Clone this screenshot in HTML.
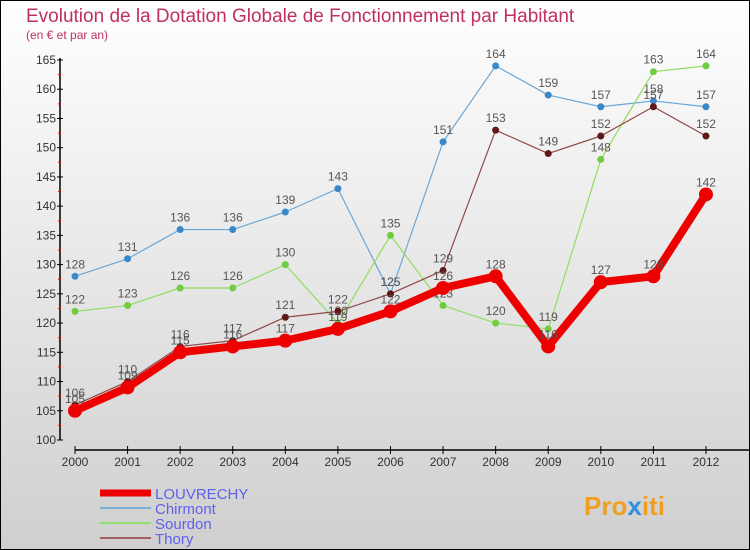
<!DOCTYPE html>
<html><head><meta charset="utf-8"><style>
body{margin:0;width:750px;height:550px;overflow:hidden;font-family:"Liberation Sans",sans-serif}
svg{display:block}
</style></head><body>
<svg id="chart" width="750" height="550" viewBox="0 0 750 550" xmlns="http://www.w3.org/2000/svg">
<defs><linearGradient id="bg" x1="0" y1="0" x2="0" y2="1"><stop offset="0" stop-color="#ffffff"/><stop offset="1" stop-color="#cfcfcf"/></linearGradient></defs>
<rect x="0.5" y="0.5" width="749" height="549" fill="url(#bg)" stroke="#000"/>
<text x="26" y="22" font-size="19" fill="#c0305a">Evolution de la Dotation Globale de Fonctionnement par Habitant</text>
<text x="26" y="39" font-size="12" fill="#c0305a">(en € et par an)</text>
<g id="axes"></g>
<g id="series"></g>
<g id="legend"></g>
<text x="584" y="515" font-size="26" font-weight="bold" fill="#f0a020">Pro<tspan fill="#3090e0">x</tspan>iti</text>
</svg>
<script>
const years=[2000,2001,2002,2003,2004,2005,2006,2007,2008,2009,2010,2011,2012];
const yTicks=[100,105,110,115,120,125,130,135,140,145,150,155,160,165];
const louvrechy=[105,109,115,116,117,119,122,126,128,116,127,128,142];
const chirmont=[128,131,136,136,139,143,125,151,164,159,157,158,157];
const sourdon=[122,123,126,126,130,120,135,123,120,119,148,163,164];
const thory=[106,110,116,117,121,122,125,129,153,149,152,157,152];
const NS="http://www.w3.org/2000/svg";
const xS=i=>75+i*52.58;
const yS=v=>440-(v-100)*(380/65);
function mk(tag,attrs,parent){const e=document.createElementNS(NS,tag);for(const k in attrs)e.setAttribute(k,attrs[k]);parent.appendChild(e);return e;}
const axes=document.getElementById('axes');
let a=mk('line',{x1:60,y1:58,x2:60,y2:440,stroke:'#000','stroke-width':1.5},axes);


a=mk('line',{x1:75,y1:450,x2:750,y2:450,stroke:'#000','stroke-width':1.5},axes);


yTicks.forEach((t,i)=>{
  const y=yS(t);
  mk('line',{x1:57,y1:y,x2:63,y2:y,stroke:'#000'},axes);
  if(i<yTicks.length-1){mk('line',{x1:58,y1:yS(t+2.5),x2:61,y2:yS(t+2.5),stroke:'#e00'},axes);}
  const tx=mk('text',{x:56,y:y+4,'font-size':12,'text-anchor':'end',fill:'#333'},axes);
  tx.textContent=t;
  
  
});
years.forEach((yr,i)=>{
  const x=xS(i);
  mk('line',{x1:x,y1:446,x2:x,y2:454,stroke:'#000'},axes);
  const tx=mk('text',{x:x,y:466,'font-size':12,'text-anchor':'middle',fill:'#333'},axes);
  tx.textContent=yr;
  
  
});
const ser=document.getElementById('series');
function draw(vals,color,dot,w,r,name){
  const g=mk('g',{},ser);
  
  
  const pl=mk('polyline',{points:vals.map((v,i)=>xS(i)+','+yS(v)).join(' '),fill:'none',stroke:color,'stroke-width':w,'stroke-linejoin':'round'},g);
  
  
  vals.forEach((v,i)=>{
    const c=mk('circle',{cx:xS(i),cy:yS(v),r:r,fill:dot},g);
    
    
    const t=mk('text',{x:xS(i),y:yS(v)-8,'font-size':12,'text-anchor':'middle',fill:'#555'},g);
    t.textContent=v;
    
    
  });
}
draw(chirmont,'#6aa8d8','#3a88c8',1.2,3.5,'chirmont');
draw(sourdon,'#90dd60','#70cc40',1.2,3.5,'sourdon');
draw(thory,'#904848','#601818',1.2,3.5,'thory');
draw(louvrechy,'#ee0000','#ee0000',8,7,'louvrechy');
const leg=document.getElementById('legend');
const items=[['LOUVRECHY','#ee0000',7],['Chirmont','#7ab0d8',2],['Sourdon','#90dd70',2],['Thory','#a06060',2]];
items.forEach((it,i)=>{
  const y=493+i*15;
  const g=mk('g',{},leg);
  
  
  mk('line',{x1:100,y1:y,x2:151,y2:y,stroke:it[1],'stroke-width':it[2]},g);
  const t=mk('text',{x:155,y:y+6,'font-size':15,fill:'#6060ee'},g);
  t.textContent=it[0];
});
</script>
</body></html>
